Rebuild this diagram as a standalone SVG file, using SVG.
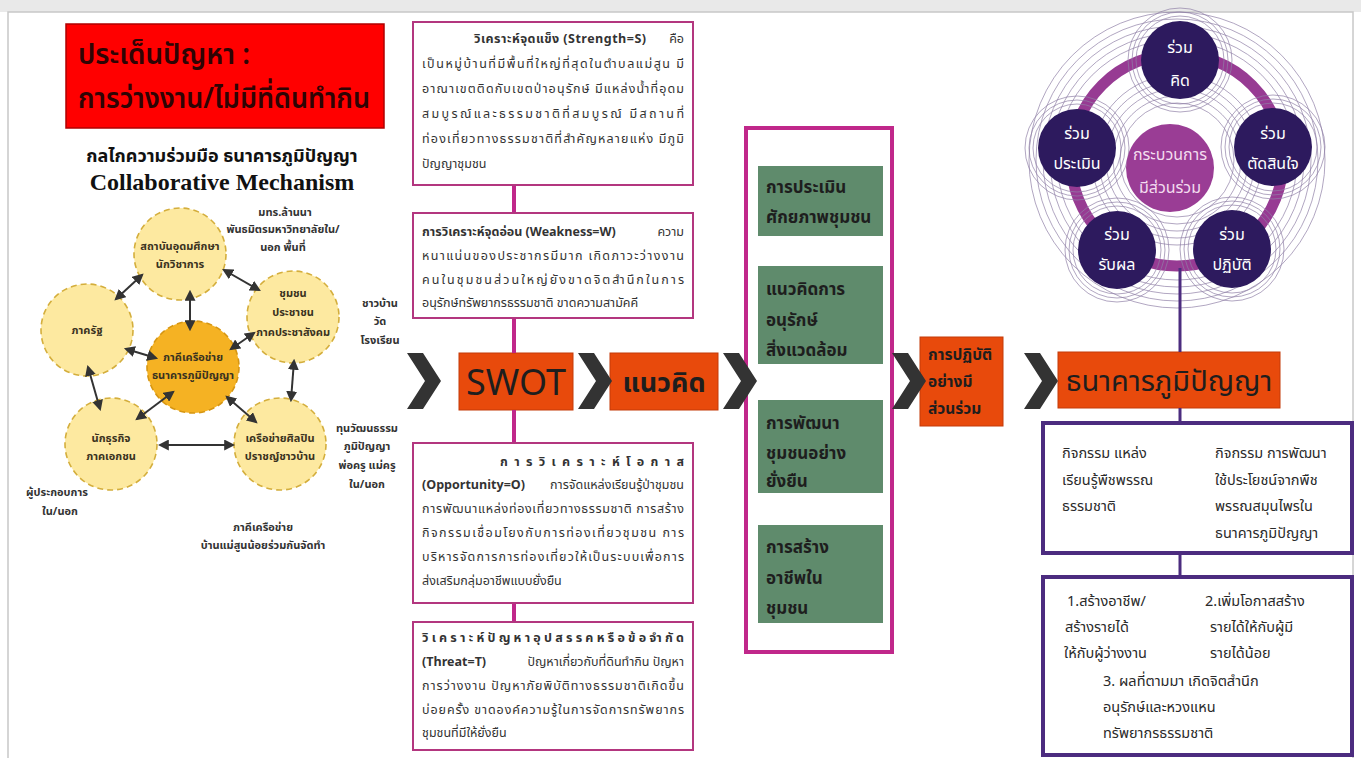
<svg xmlns="http://www.w3.org/2000/svg" width="1361" height="758" viewBox="0 0 1361 758">
<defs>
<style>
.th{font-family:"Noto Sans Thai","Liberation Sans","Noto Sans",sans-serif;fill:#333}
.b{font-weight:bold}
.para{font-size:12.5px}
.circ{fill:#fde9a0;stroke:#d4ae3c;stroke-width:1.6;stroke-dasharray:6 4}
.circc{fill:#f5b223;stroke:#d69612;stroke-width:1.6;stroke-dasharray:6 4}
.ct{font-size:11px;font-weight:bold;text-anchor:middle;fill:#3a3220}
.lbl{font-size:11px;font-weight:bold;text-anchor:middle;fill:#333}
.swotbox{fill:#fff;stroke:#b3367f;stroke-width:2}
.orange{fill:#e84a0c;stroke:#c43a08;stroke-width:1}
.green{fill:#5f8b6c}
.gt{font-size:17px;font-weight:bold;fill:#1e1e1e}
.pbox{fill:#fff;stroke:#4c2c7f;stroke-width:4}
.rt{font-size:14.5px;fill:#2a2a2a}
.thin{fill:none;stroke:#8f80a6;stroke-width:0.7}
.dot{fill:#2d1a5e}
.wt{font-size:16px;fill:#fff;text-anchor:middle}
.arr{stroke:#333;stroke-width:2;fill:none;marker-start:url(#ah);marker-end:url(#ah)}
.pink{stroke:#c0278a;stroke-width:4}
.purp{stroke:#4c2c7f;stroke-width:3}
</style>
<marker id="ah" viewBox="0 0 10 10" refX="8" refY="5" markerWidth="5.5" markerHeight="5.5" orient="auto-start-reverse">
<path d="M0,0 L10,5 L0,10 z" fill="#333"/>
</marker>
<path id="chev" d="M0,0 L16,0 L34,28 L16,56 L0,56 L18,28 Z" fill="#333"/>
</defs>

<rect x="0" y="0" width="1361" height="758" fill="#ffffff"/>
<rect x="0" y="0" width="1361" height="12" fill="#e9e9e9"/>
<rect x="8" y="12" width="1345" height="760" fill="#ffffff" stroke="#c8c8c8" stroke-width="1.5"/>

<!-- Title -->
<g id="title">
<rect x="66" y="24" width="318" height="104" fill="#ff0000" stroke="#b00000" stroke-width="1.5"/>
<text class="th" x="78" y="64" font-size="29" style="fill:#2e0404;font-weight:600" textLength="172" lengthAdjust="spacingAndGlyphs">ประเด็นปัญหา :</text>
<text class="th" x="78" y="108" font-size="29" style="fill:#2e0404;font-weight:600" textLength="292" lengthAdjust="spacingAndGlyphs">การว่างงาน/ไม่มีที่ดินทำกิน</text>
<text class="th b" x="222" y="162" font-size="18" text-anchor="middle" style="fill:#111">กลไกความร่วมมือ ธนาคารภูมิปัญญา</text>
<text x="222" y="190" font-family="Liberation Serif, serif" font-weight="bold" font-size="24" text-anchor="middle" fill="#111">Collaborative Mechanism</text>
</g>

<g id="n-academic"><circle class="circ" cx="180" cy="254" r="46"/>
<text class="th ct" x="180" y="250">สถาบันอุดมศึกษา</text><text class="th ct" x="180" y="268">นักวิชาการ</text></g>
<g id="n-gov"><circle class="circ" cx="87" cy="330" r="46"/>
<text class="th ct" x="87" y="334">ภาครัฐ</text></g>
<g id="n-center"><circle class="circc" cx="193" cy="367" r="46"/>
<text class="th ct" x="193" y="361">ภาคีเครือข่าย</text><text class="th ct" x="193" y="379">ธนาคารภูมิปัญญา</text></g>
<g id="n-community"><circle class="circ" cx="293" cy="317" r="46"/>
<text class="th ct" x="293" y="297">ชุมชน</text><text class="th ct" x="293" y="316">ประชาชน</text><text class="th ct" x="293" y="336">ภาคประชาสังคม</text></g>
<g id="n-business"><circle class="circ" cx="111" cy="444" r="46"/>
<text class="th ct" x="111" y="442">นักธุรกิจ</text><text class="th ct" x="111" y="460">ภาคเอกชน</text></g>
<g id="n-artists"><circle class="circ" cx="280" cy="444" r="46"/>
<text class="th ct" x="280" y="442">เครือข่ายศิลปิน</text><text class="th ct" x="280" y="460">ปราชญ์ชาวบ้าน</text></g>

<g id="left-labels">
<text class="th lbl" x="285" y="216">มทร.ล้านนา</text>
<text class="th lbl" x="283" y="233">พันธมิตรมหาวิทยาลัยใน/</text>
<text class="th lbl" x="283" y="251">นอก พื้นที่</text>
<text class="th lbl" x="380" y="307">ชาวบ้าน</text>
<text class="th lbl" x="380" y="325">วัด</text>
<text class="th lbl" x="380" y="344">โรงเรียน</text>
<text class="th lbl" x="367" y="432">ทุนวัฒนธรรม</text>
<text class="th lbl" x="367" y="450">ภูมิปัญญา</text>
<text class="th lbl" x="367" y="469">พ่อครู แม่ครู</text>
<text class="th lbl" x="367" y="488">ใน/นอก</text>
<text class="th lbl" x="57" y="496">ผู้ประกอบการ</text>
<text class="th lbl" x="60" y="515">ใน/นอก</text>
<text class="th lbl" x="263" y="531">ภาคีเครือข่าย</text>
<text class="th lbl" x="263" y="549">บ้านแม่สูนน้อยร่วมกันจัดทำ</text>
</g>

<g id="strength">
<rect class="swotbox" x="413" y="22" width="280" height="163"/>
<text class="th para b" x="474" y="43" textLength="172" lengthAdjust="spacing">วิเคราะห์จุดแข็ง (Strength=S)</text>
<text class="th para" x="684" y="43" text-anchor="end">คือ</text>
<text class="th para" x="422" y="68" textLength="262" lengthAdjust="spacing">เป็นหมู่บ้านที่มีพื้นที่ใหญ่ที่สุดในตำบลแม่สูน มี</text>
<text class="th para" x="422" y="93" textLength="262" lengthAdjust="spacing">อาณาเขตติดกับเขตป่าอนุรักษ์ มีแหล่งน้ำที่อุดม</text>
<text class="th para" x="422" y="118" textLength="262" lengthAdjust="spacing">สมบูรณ์และธรรมชาติที่สมบูรณ์ มีสถานที่</text>
<text class="th para" x="422" y="143" textLength="262" lengthAdjust="spacing">ท่องเที่ยวทางธรรมชาติที่สำคัญหลายแห่ง มีภูมิ</text>
<text class="th para" x="422" y="168">ปัญญาชุมชน</text>
</g>

<g id="weakness">
<rect class="swotbox" x="413" y="213" width="280" height="105"/>
<text class="th para b" x="422" y="236">การวิเคราะห์จุดอ่อน (Weakness=W)</text>
<text class="th para" x="684" y="236" text-anchor="end">ความ</text>
<text class="th para" x="422" y="260" textLength="262" lengthAdjust="spacing">หนาแน่นของประชากรมีมาก เกิดภาวะว่างงาน</text>
<text class="th para" x="422" y="284" textLength="262" lengthAdjust="spacing">คนในชุมชนส่วนใหญ่ยังขาดจิตสำนึกในการ</text>
<text class="th para" x="422" y="307">อนุรักษ์ทรัพยากรธรรมชาติ ขาดความสามัคคี</text>
</g>

<g id="opportunity">
<rect class="swotbox" x="413" y="443" width="280" height="160"/>
<text class="th para b" x="500" y="466" textLength="184" lengthAdjust="spacing">การวิเคราะห์โอกาส</text>
<text class="th para b" x="422" y="489">(Opportunity=O)</text>
<text class="th para" x="684" y="489" text-anchor="end">การจัดแหล่งเรียนรู้ป่าชุมชน</text>
<text class="th para" x="422" y="513" textLength="262" lengthAdjust="spacing">การพัฒนาแหล่งท่องเที่ยวทางธรรมชาติ การสร้าง</text>
<text class="th para" x="422" y="537" textLength="262" lengthAdjust="spacing">กิจกรรมเชื่อมโยงกับการท่องเที่ยวชุมชน การ</text>
<text class="th para" x="422" y="561" textLength="262" lengthAdjust="spacing">บริหารจัดการการท่องเที่ยวให้เป็นระบบเพื่อการ</text>
<text class="th para" x="422" y="585">ส่งเสริมกลุ่มอาชีพแบบยั่งยืน</text>
</g>

<g id="threat">
<rect class="swotbox" x="413" y="622" width="280" height="128"/>
<text class="th para b" x="422" y="642" textLength="262" lengthAdjust="spacing">วิเคราะห์ปัญหาอุปสรรคหรือข้อจำกัด</text>
<text class="th para b" x="422" y="666">(Threat=T)</text>
<text class="th para" x="684" y="666" text-anchor="end">ปัญหาเกี่ยวกับที่ดินทำกิน ปัญหา</text>
<text class="th para" x="422" y="690" textLength="262" lengthAdjust="spacing">การว่างงาน ปัญหาภัยพิบัติทางธรรมชาติเกิดขึ้น</text>
<text class="th para" x="422" y="714" textLength="262" lengthAdjust="spacing">บ่อยครั้ง ขาดองค์ความรู้ในการจัดการทรัพยากร</text>
<text class="th para" x="422" y="737">ชุมชนที่มีให้ยั่งยืน</text>
</g>

<g id="swot">
<rect class="orange" x="459" y="353" width="114" height="57"/>
<text class="th" x="516" y="395" font-size="36" text-anchor="middle" style="fill:#1e1e1e">SWOT</text>
</g>
<g id="concept">
<rect class="orange" x="610" y="353" width="108" height="57"/>
<text class="th b" x="664" y="392" font-size="27" text-anchor="middle" style="fill:#1e1e1e">แนวคิด</text>
</g>

<g id="concepts-panel">
<rect x="746" y="128" width="146" height="524" fill="#fff" stroke="#c0278a" stroke-width="4"/>
<rect class="green" x="758" y="166" width="125" height="70"/>
<text class="th gt" x="766" y="193">การประเมิน</text>
<text class="th gt" x="766" y="223">ศักยภาพชุมชน</text>
<rect class="green" x="758" y="266" width="125" height="98"/>
<text class="th gt" x="766" y="295">แนวคิดการ</text>
<text class="th gt" x="766" y="326">อนุรักษ์</text>
<text class="th gt" x="766" y="356">สิ่งแวดล้อม</text>
<rect class="green" x="758" y="400" width="125" height="93"/>
<text class="th gt" x="766" y="429">การพัฒนา</text>
<text class="th gt" x="766" y="459">ชุมชนอย่าง</text>
<text class="th gt" x="766" y="487">ยั่งยืน</text>
<rect class="green" x="758" y="525" width="125" height="98"/>
<text class="th gt" x="766" y="553">การสร้าง</text>
<text class="th gt" x="766" y="584">อาชีพใน</text>
<text class="th gt" x="766" y="614">ชุมชน</text>
</g>

<g id="practice">
<rect class="orange" x="920" y="337" width="83" height="89"/>
<text class="th b" x="928" y="360" font-size="15.5" style="fill:#1e1e1e">การปฏิบัติ</text>
<text class="th b" x="928" y="387" font-size="15.5" style="fill:#1e1e1e">อย่างมี</text>
<text class="th b" x="928" y="414" font-size="15.5" style="fill:#1e1e1e">ส่วนร่วม</text>
</g>

<g id="participation-wheel">
<circle class="thin" cx="1177" cy="160" r="148"/>
<circle class="thin" cx="1177" cy="160" r="141"/>
<circle class="thin" cx="1177" cy="160" r="134"/>
<circle class="thin" cx="1177" cy="160" r="127"/>
<circle class="thin" cx="1177" cy="160" r="120"/>
<circle class="thin" cx="1177" cy="160" r="85"/>
<circle class="thin" cx="1177" cy="160" r="78"/>
<circle class="thin" cx="1177" cy="160" r="71"/>
<circle class="thin" cx="1177" cy="160" r="64"/>
<circle class="thin" cx="1177" cy="160" r="57"/>
<circle cx="1177" cy="160" r="106" fill="none" stroke="#973b93" stroke-width="11"/>
<g>
<circle class="thin" cx="1180" cy="60" r="44"/><circle class="thin" cx="1180" cy="60" r="48"/><circle class="thin" cx="1180" cy="60" r="52"/>
<circle class="thin" cx="1273" cy="147" r="44"/><circle class="thin" cx="1273" cy="147" r="48"/><circle class="thin" cx="1273" cy="147" r="52"/>
<circle class="thin" cx="1232" cy="249" r="44"/><circle class="thin" cx="1232" cy="249" r="48"/><circle class="thin" cx="1232" cy="249" r="52"/>
<circle class="thin" cx="1117" cy="250" r="44"/><circle class="thin" cx="1117" cy="250" r="48"/><circle class="thin" cx="1117" cy="250" r="52"/>
<circle class="thin" cx="1077" cy="148" r="44"/><circle class="thin" cx="1077" cy="148" r="48"/><circle class="thin" cx="1077" cy="148" r="52"/>
</g>
<circle cx="1170" cy="168" r="44" fill="#9a3d95"/>
<text class="th wt" x="1170" y="160" style="fill:#f3dcef">กระบวนการ</text>
<text class="th wt" x="1170" y="193" style="fill:#f3dcef">มีส่วนร่วม</text>
</g>
<g id="w-think"><circle class="dot" cx="1180" cy="60" r="39"/>
<text class="th wt" x="1180" y="53" style="fill:#fff">ร่วม</text><text class="th wt" x="1180" y="86" style="fill:#fff">คิด</text></g>
<g id="w-decide"><circle class="dot" cx="1273" cy="147" r="39"/>
<text class="th wt" x="1273" y="139" style="fill:#fff">ร่วม</text><text class="th wt" x="1273" y="169" style="fill:#fff">ตัดสินใจ</text></g>
<g id="w-act"><circle class="dot" cx="1232" cy="249" r="39"/>
<text class="th wt" x="1232" y="240" style="fill:#fff">ร่วม</text><text class="th wt" x="1232" y="270" style="fill:#fff">ปฏิบัติ</text></g>
<g id="w-benefit"><circle class="dot" cx="1117" cy="250" r="39"/>
<text class="th wt" x="1117" y="240" style="fill:#fff">ร่วม</text><text class="th wt" x="1117" y="270" style="fill:#fff">รับผล</text></g>
<g id="w-evaluate"><circle class="dot" cx="1077" cy="148" r="39"/>
<text class="th wt" x="1077" y="139" style="fill:#fff">ร่วม</text><text class="th wt" x="1077" y="169" style="fill:#fff">ประเมิน</text></g>

<g id="wisdom-bank">
<rect class="orange" x="1058" y="352" width="222" height="56"/>
<text class="th" x="1169" y="391" font-size="29" text-anchor="middle" style="fill:#1e1e1e">ธนาคารภูมิปัญญา</text>
</g>

<g id="activities">
<rect class="pbox" x="1043" y="423" width="309" height="130"/>
<text class="th rt" x="1062" y="458">กิจกรรม แหล่ง</text>
<text class="th rt" x="1062" y="485">เรียนรู้พืชพรรณ</text>
<text class="th rt" x="1062" y="511">ธรรมชาติ</text>
<text class="th rt" x="1215" y="458">กิจกรรม การพัฒนา</text>
<text class="th rt" x="1215" y="485">ใช้ประโยชน์จากพืช</text>
<text class="th rt" x="1215" y="511">พรรณสมุนไพรใน</text>
<text class="th rt" x="1215" y="538">ธนาคารภูมิปัญญา</text>
</g>

<g id="outcomes">
<rect class="pbox" x="1043" y="577" width="309" height="178"/>
<text class="th rt" x="1067" y="606">1.สร้างอาชีพ/</text>
<text class="th rt" x="1065" y="632">สร้างรายได้</text>
<text class="th rt" x="1064" y="658">ให้กับผู้ว่างงาน</text>
<text class="th rt" x="1205" y="606">2.เพิ่มโอกาสสร้าง</text>
<text class="th rt" x="1210" y="632">รายได้ให้กับผู้มี</text>
<text class="th rt" x="1210" y="658">รายได้น้อย</text>
<text class="th rt" x="1103" y="686">3. ผลที่ตามมา เกิดจิตสำนึก</text>
<text class="th rt" x="1103" y="712">อนุรักษ์และหวงแหน</text>
<text class="th rt" x="1103" y="738">ทรัพยากรธรรมชาติ</text>
</g>

<!-- Connectors -->
<g id="connectors">
<line class="arr" x1="224" y1="270" x2="259" y2="290"/>
<line class="arr" x1="142" y1="275" x2="116" y2="299"/>
<line class="arr" x1="190" y1="292" x2="190" y2="329"/>
<line class="arr" x1="126" y1="349" x2="156" y2="358"/>
<line class="arr" x1="254" y1="333" x2="231" y2="349"/>
<line class="arr" x1="88" y1="367" x2="100" y2="409"/>
<line class="arr" x1="294" y1="361" x2="291" y2="400"/>
<line class="arr" x1="173" y1="392" x2="137" y2="419"/>
<line class="arr" x1="227" y1="397" x2="256" y2="422"/>
<line class="arr" x1="160" y1="445" x2="233" y2="445"/>
<line class="pink" x1="514" y1="186" x2="514" y2="212"/>
<line class="pink" x1="514" y1="319" x2="514" y2="353"/>
<line class="pink" x1="514" y1="410" x2="514" y2="442"/>
<line class="pink" x1="514" y1="604" x2="514" y2="621"/>
<line class="purp" x1="1180" y1="268" x2="1180" y2="352"/>
<line class="purp" x1="1180" y1="408" x2="1180" y2="422"/>
<line class="purp" x1="1180" y1="554" x2="1180" y2="576"/>
<use href="#chev" x="407" y="353"/>
<use href="#chev" x="578" y="353"/>
<use href="#chev" x="723" y="353"/>
<use href="#chev" x="892" y="353"/>
<use href="#chev" x="1024" y="353"/>
</g>
</svg>
